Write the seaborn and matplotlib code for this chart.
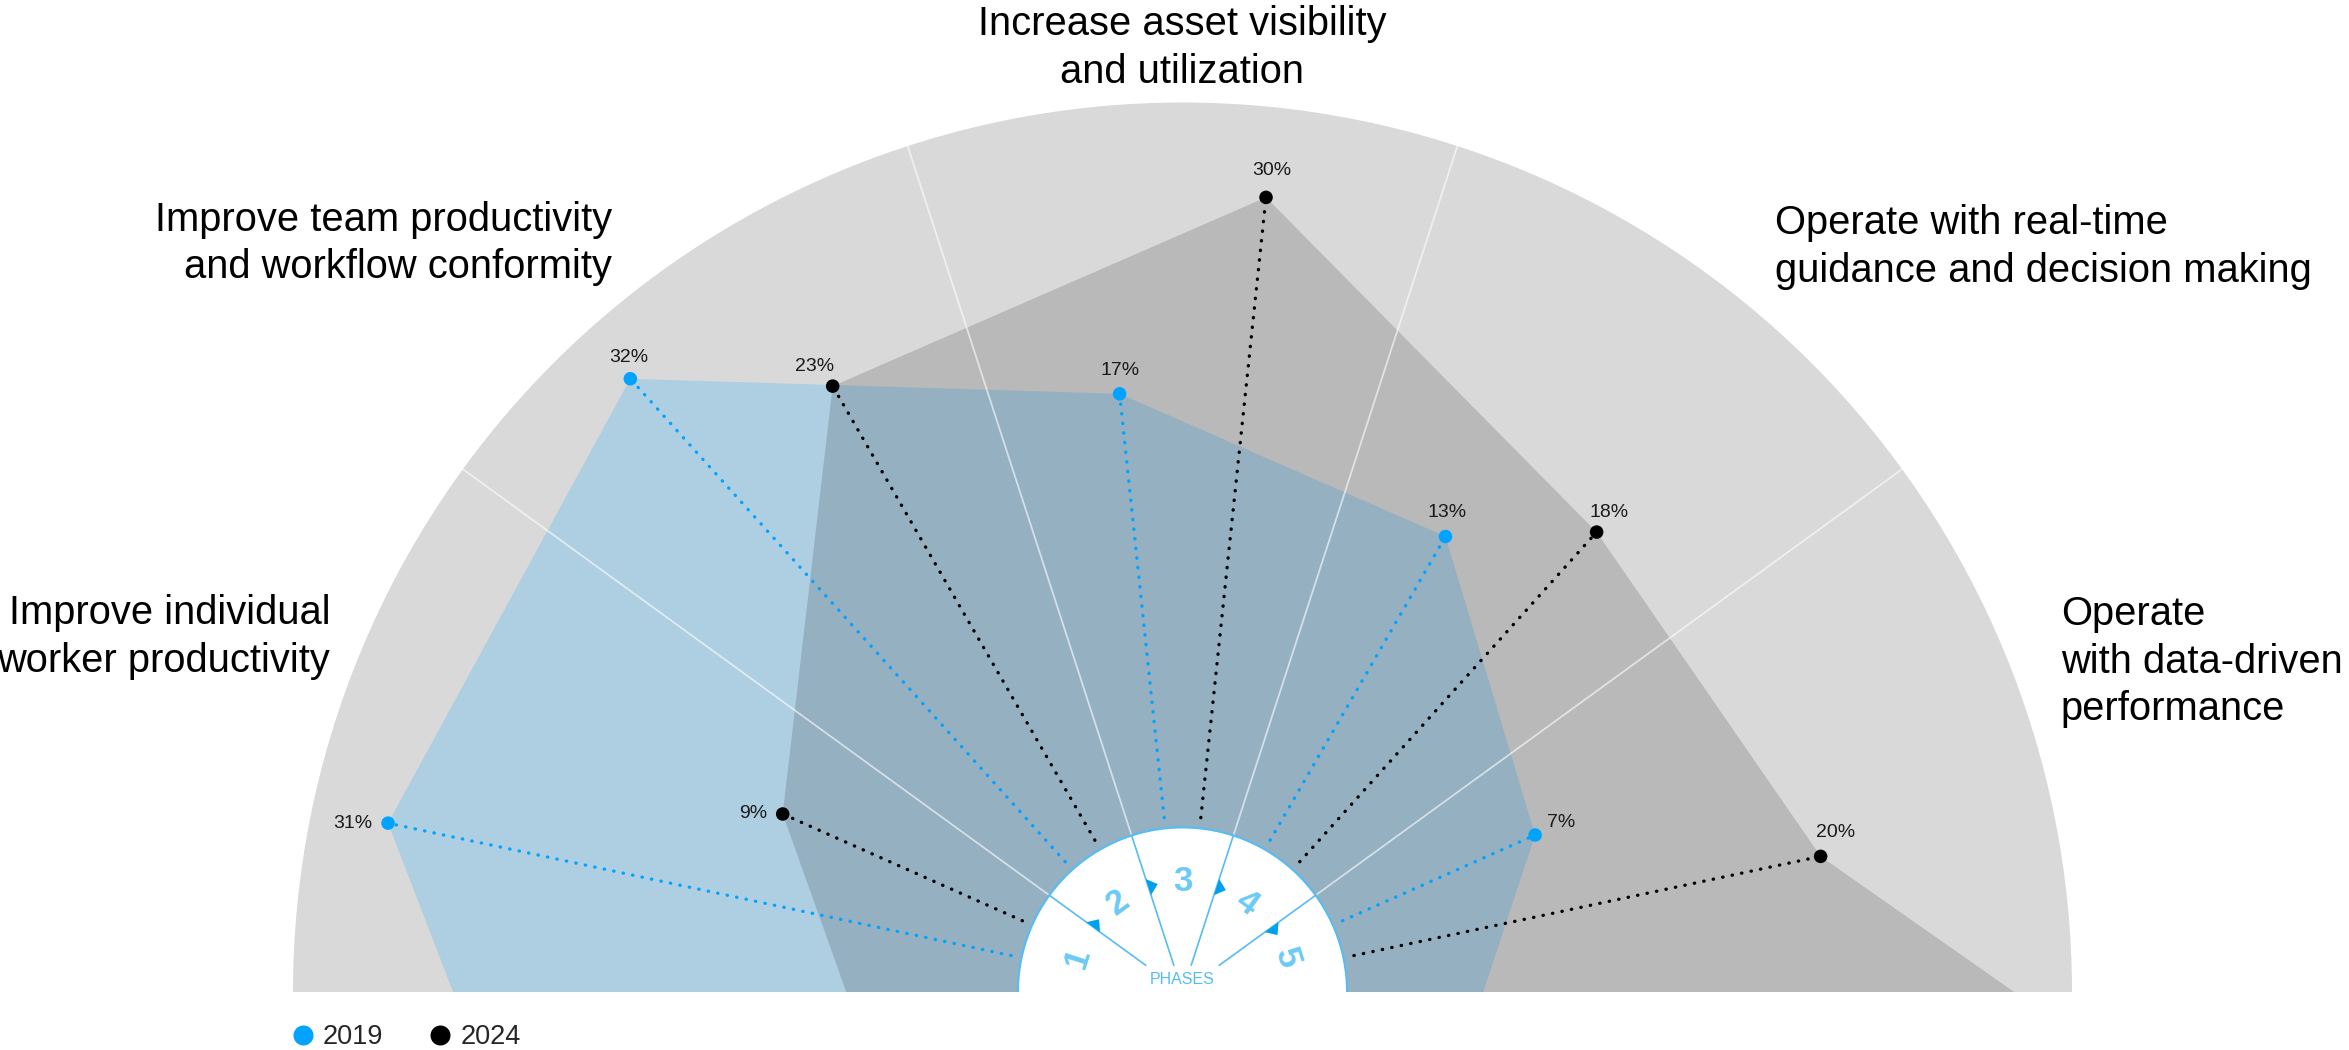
import numpy as np
import pandas as pd
import matplotlib
matplotlib.use('Agg')
import matplotlib.pyplot as plt
from matplotlib.patches import Wedge, Arc, Polygon
import seaborn as sns

# Style set-up
sns.set_style('white')
plt.rcParams['font.family'] = ['Liberation Sans', 'DejaVu Sans']

# Chart data
categories = ['Improve individual\nworker productivity',
              'Improve team productivity\nand workflow conformity',
              'Increase asset visibility\nand utilization',
              'Operate with real-time\nguidance and decision making',
              'Operate\nwith data-driven\nperformance']
phases = ['1', '2', '3', '4', '5']
years = ['2019', '2024']
share_2019 = [31, 32, 17, 13, 7]
share_2024 = [9, 23, 30, 18, 20]

# where each series outline meets the baseline (share of outer radius), left / right
base_2019 = (0.82, 0.338)
base_2024 = (0.378, 0.935)

# Colours
BLUE = '#00a3ff'
BLUE_FILL = '#aecfe2'
GREY_BG = '#d9d9d9'
PHASE_BLUE = '#6ccaf7'
LINE_BLUE = '#55bdf3'

# Geometry (outer radius = 1)
R_IN = 0.185
K = 0.164          # radius = K * sqrt(share)
SECTOR = 180 / len(phases)


def pol(r, deg):
    return r * np.cos(np.radians(deg)), r * np.sin(np.radians(deg))


# angle of each series inside its phase sector
rows = []
for i, ph in enumerate(phases):
    hi = 180 - SECTOR * i
    for yr, vals, off in ((years[0], share_2019, 1 / 3), (years[1], share_2024, 2 / 3)):
        ang = hi - SECTOR * off
        r = K * np.sqrt(vals[i])
        x, y = pol(r, ang)
        rows.append({'year': yr, 'phase': ph, 'share': vals[i], 'angle': ang, 'r': r, 'x': x, 'y': y})
df = pd.DataFrame(rows)

fig = plt.figure(figsize=(23.49, 10.5), dpi=100)
ax = fig.add_axes([0, 0, 1, 1])

# background half disc
ax.add_patch(Wedge((0, 0), 1.0, 0, 180, facecolor=GREY_BG, edgecolor='none', zorder=1))

# series areas
for yr, base, fc, alpha, z in ((years[0], base_2019, BLUE_FILL, 1.0, 2),
                               (years[1], base_2024, 'black', 0.145, 3)):
    d = df[df['year'] == yr]
    pts = [pol(base[0], 180)] + list(zip(d['x'], d['y'])) + [pol(base[1], 0)]
    ax.add_patch(Polygon(pts, closed=True, facecolor=fc, alpha=alpha, edgecolor='none', zorder=z))

# sector separators
for b in np.arange(SECTOR, 180, SECTOR):
    x0, y0 = pol(R_IN, b)
    x1, y1 = pol(1.0, b)
    ax.plot([x0, x1], [y0, y1], color='white', lw=1.3, alpha=0.6, zorder=4)

# dotted leaders
for _, row in df.iterrows():
    x0, y0 = pol(0.197, row['angle'])
    ax.plot([x0, row['x']], [y0, row['y']], color=BLUE if row['year'] == years[0] else 'black',
            lw=2.4, linestyle=(0, (0.1, 2.8)), dash_capstyle='round', zorder=5)

sns.scatterplot(data=df, x='x', y='y', hue='year', palette={years[0]: BLUE, years[1]: 'black'},
                s=95, linewidth=0, ax=ax, zorder=6)

# percentage labels
offsets = [(-11, 0, 'right'), (-11, 0, 'right'),
           (-1, 15, 'center'), (-13, 14, 'center'),
           (0, 17, 'center'), (4, 19, 'center'),
           (1, 17, 'center'), (9, 14, 'center'),
           (19, 9, 'center'), (11, 17, 'center')]
order = [(0, years[0]), (0, years[1]), (1, years[0]), (1, years[1]), (2, years[0]),
         (2, years[1]), (3, years[0]), (3, years[1]), (4, years[0]), (4, years[1])]
for (i, yr), (dx, dy, ha) in zip(order, offsets):
    row = df[(df['phase'] == phases[i]) & (df['year'] == yr)].iloc[0]
    ax.annotate(f"{row['share']}%", (row['x'], row['y']), xytext=(dx, dy), textcoords='offset points',
                ha=ha, va='center', fontsize=14, color='#1a1a1a', zorder=9)

# inner phase dial
ax.add_patch(Wedge((0, 0), R_IN, 0, 180, facecolor='white', edgecolor='none', zorder=7))
ax.add_patch(Arc((0, 0), 2 * R_IN, 2 * R_IN, theta1=0, theta2=180, color=LINE_BLUE, lw=1.5, zorder=8))
for b in np.arange(SECTOR, 180, SECTOR):
    r0 = 0.030 / np.sin(np.radians(b))
    x0, y0 = pol(r0, b)
    x1, y1 = pol(R_IN, b)
    ax.plot([x0, x1], [y0, y1], color=LINE_BLUE, lw=1.2, zorder=8)
    u = np.array([np.cos(np.radians(b)), np.sin(np.radians(b))])
    t = np.array([np.sin(np.radians(b)), -np.cos(np.radians(b))])
    c = 0.124 * u
    tri = [c - 0.0095 * u, c + 0.0095 * u, c + 0.011 * t]
    ax.add_patch(Polygon(tri, closed=True, facecolor='#00a0f0', edgecolor='none', zorder=9))
for i, ph in enumerate(phases):
    mid = 180 - SECTOR * (i + 0.5)
    x, y = pol(0.124, mid)
    ax.text(x, y, ph, ha='center', va='center', rotation=mid - 90, fontsize=25, fontweight='bold',
            color=PHASE_BLUE, zorder=9)
ax.text(0, 0.0135, 'PHASES', ha='center', va='center', fontsize=11.5, color=LINE_BLUE, zorder=9)

# category labels around the rim
cat_pos = [(157.4, 1.038, 'right'), (127.3, 1.058, 'right'), (90, 1.061, 'center'),
           (51.5, 1.070, 'left'), (20.6, 1.055, 'left')]
for lab, (ang, r, ha) in zip(categories, cat_pos):
    x, y = pol(r, ang)
    ax.text(x, y, lab, ha=ha, va='center', multialignment=ha, fontsize=28.7, color='black',
            linespacing=1.32, zorder=9)

# legend
sns.move_legend(ax, 'center left', bbox_to_anchor=(289 / 2349, 1 - 1037 / 1050), ncol=2,
                frameon=False, title=None, fontsize=19.5, handlelength=1.0, handletextpad=0.25,
                columnspacing=1.6, borderpad=0, borderaxespad=0)
for h in ax.get_legend().legend_handles:
    if hasattr(h, 'set_sizes'):
        h.set_sizes([200])
    else:
        h.set_markersize(14.4)

ax.set_xlim(-1182.5 / 889.5, (2349 - 1182.5) / 889.5)
ax.set_ylim(-(1050 - 992) / 889.5, 992 / 889.5)
ax.axis('off')

fig.savefig('out.png', dpi=100)
